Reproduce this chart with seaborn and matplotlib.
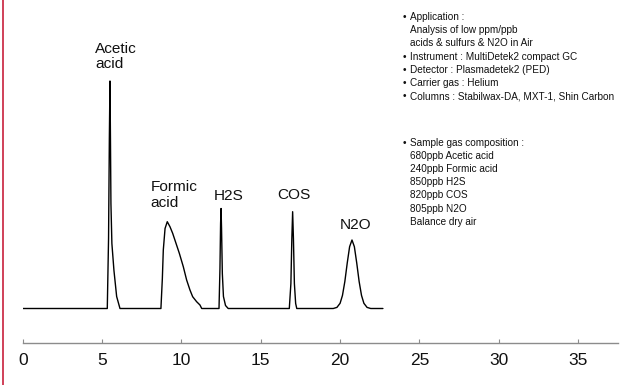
import matplotlib
matplotlib.use("Agg")
import matplotlib.pyplot as plt
from matplotlib.lines import Line2D
import seaborn as sns

# chromatogram trace (time in min, signal in arbitrary units)
time_min = [0.00,
            5.33, 5.41, 5.46, 5.50, 5.53, 5.56, 5.62, 5.75, 5.92, 6.13,
            8.71, 8.80, 8.86, 8.97, 9.11, 9.28, 9.45, 9.66, 9.87, 10.12,
            10.33, 10.54, 10.71, 10.96, 11.17, 11.28,
            12.37, 12.43, 12.47, 12.50, 12.53, 12.58, 12.65, 12.78, 12.95,
            16.80, 16.90, 16.96, 17.01, 17.06, 17.12, 17.20, 17.27,
            19.57, 19.80, 20.00, 20.15, 20.30, 20.45, 20.60, 20.75, 20.90,
            21.05, 21.20, 21.35, 21.50, 21.70, 21.93,
            22.70]
signal = [0.0,
          0.0, 70.0, 170.0, 227.5, 170.0, 105.0, 65.0, 38.0, 12.0, 0.0,
          0.0, 30.0, 58.5, 80.0, 86.8, 81.8, 75.2, 65.2, 55.2, 41.8,
          28.5, 18.5, 11.8, 6.8, 3.5, 0.0,
          0.0, 40.0, 85.0, 100.0, 80.0, 35.0, 12.0, 3.0, 0.0,
          0.0, 25.0, 70.0, 96.8, 70.0, 25.0, 5.0, 0.0,
          0.0, 1.1, 5.2, 13.1, 27.0, 45.4, 61.8, 68.5, 61.8,
          45.4, 27.0, 13.1, 5.2, 1.1, 0.0,
          0.0]

peak_names = ["Acetic\nacid", "Formic\nacid", "H2S", "COS", "N2O"]
label_x = [4.56, 8.07, 12.07, 16.04, 19.99]
label_y = [240.2, 101.8, 108.5, 109.2, 79.2]   # baseline of last line

x_ticks = [0, 5, 10, 15, 20, 25, 30, 35]

info_lines = [("Application :", True),
              ("Analysis of low ppm/ppb", False),
              ("acids & sulfurs & N2O in Air", False),
              ("Instrument : MultiDetek2 compact GC", True),
              ("Detector : Plasmadetek2 (PED)", True),
              ("Carrier gas : Helium", True),
              ("Columns : Stabilwax-DA, MXT-1, Shin Carbon", True)]
sample_lines = [("Sample gas composition :", True),
                ("680ppb Acetic acid", False),
                ("240ppb Formic acid", False),
                ("850ppb H2S", False),
                ("820ppb COS", False),
                ("805ppb N2O", False),
                ("Balance dry air", False)]

sns.set_theme(style="white")
plt.rcParams["font.family"] = ["Liberation Sans", "DejaVu Sans"]

W, H = 628, 385
fig = plt.figure(figsize=(W / 100, H / 100), dpi=100)
ax = fig.add_axes([22.7 / W, 42 / H, 595.1 / W, 343 / H])

sns.lineplot(x=time_min, y=signal, ax=ax, color="black", lw=1.0,
             estimator=None, sort=False)

ax.set_xlim(0, 37.5)
ax.set_ylim(-34.5, 308.5)
ax.set_yticks([])
ax.set_xticks(x_ticks)
ax.set_xticklabels([str(t) for t in x_ticks])
for s in ["left", "top", "right"]:
    ax.spines[s].set_visible(False)
ax.spines["bottom"].set_color("#8c8c8c")
ax.spines["bottom"].set_linewidth(1.0)
ax.tick_params(axis="x", direction="in", length=3, width=0.8, color="#8c8c8c",
               labelsize=12.5, labelcolor="#111111", pad=7, bottom=True)

for name, lx, ly in zip(peak_names, label_x, label_y):
    ax.text(lx, ly, name, ha="left", va="baseline", fontsize=11.1,
            linespacing=1.15, color="#111111")

# text block on the right
def put_lines(lines, y0, step):
    for i, (txt, bullet) in enumerate(lines):
        yb = 1 - (y0 + i * step) / H
        if bullet:
            fig.text(403 / W, yb, "\u2022", fontsize=7.3, ha="left", va="baseline",
                     color="#111111")
        fig.text(410 / W, yb, txt, fontsize=7.2, ha="left", va="baseline",
                 color="#111111")

put_lines(info_lines, 20.0, 13.2)
put_lines(sample_lines, 145.5, 13.2)

# red edge line at the left
fig.add_artist(Line2D([3.3 / W, 3.3 / W], [0, 1], color="#c8203c", lw=1.2,
                      transform=fig.transFigure))

fig.savefig("out.png", dpi=100)
